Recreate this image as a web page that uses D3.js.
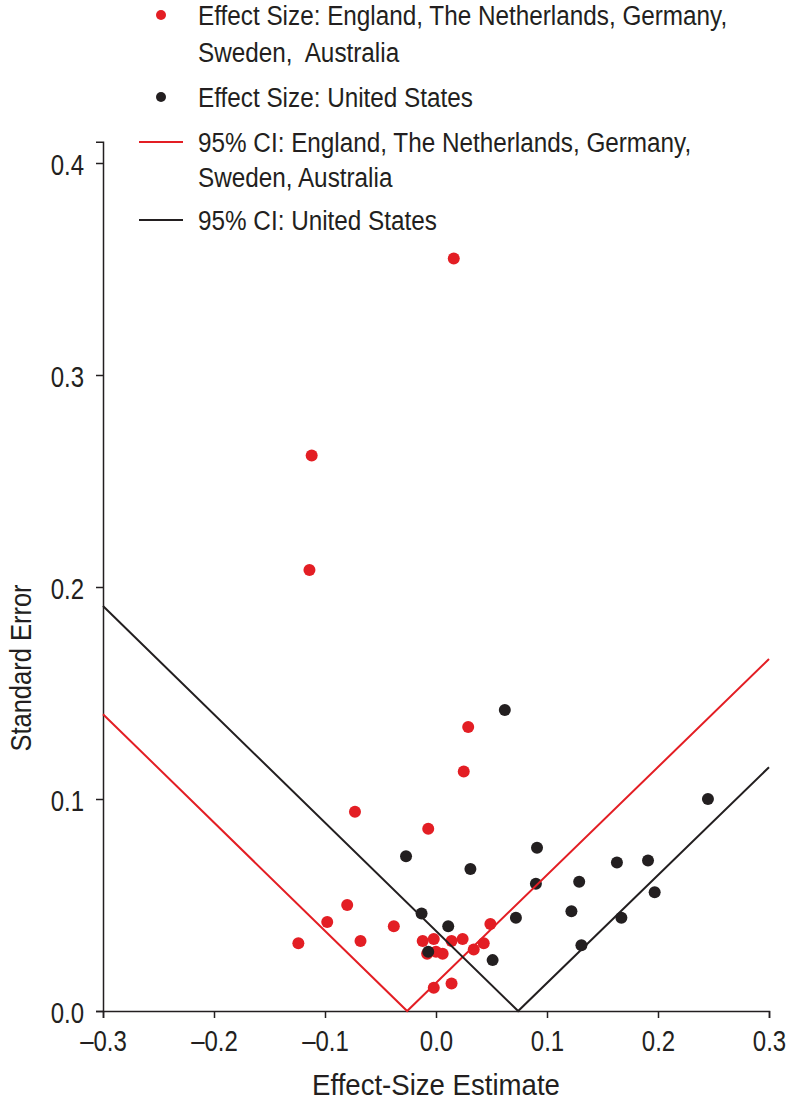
<!DOCTYPE html>
<html>
<head>
<meta charset="utf-8">
<script src="https://cdn.jsdelivr.net/npm/d3@7"></script>
<style>
  html, body { margin: 0; padding: 0; background: #fff; }
  svg { display: block; }
  text { font-family: "Liberation Sans", Arial, Helvetica, sans-serif; fill: #231f20; }
</style>
</head>
<body>
<svg id="chart" width="790" height="1101"></svg>
<script>
// ---- Data ----
const redEffect = [0.016, -0.112, -0.114, 0.029, 0.025, -0.073, -0.007, -0.080, -0.098, -0.124, -0.068, -0.038,
                   -0.012, -0.002, 0.014, 0.024, 0.049, 0.043, 0.034, -0.008, 0.000, 0.006, -0.002, 0.014];
const redSE     = [0.355, 0.262, 0.208, 0.134, 0.113, 0.094, 0.086, 0.050, 0.042, 0.032, 0.033, 0.040,
                   0.033, 0.034, 0.033, 0.034, 0.041, 0.032, 0.029, 0.027, 0.028, 0.027, 0.011, 0.013];
const usEffect  = [0.062, -0.027, 0.031, 0.091, 0.090, -0.013, 0.011, -0.007, 0.051, 0.072, 0.245, 0.163,
                   0.191, 0.129, 0.197, 0.122, 0.167, 0.131];
const usSE      = [0.142, 0.073, 0.067, 0.077, 0.060, 0.046, 0.040, 0.028, 0.024, 0.044, 0.100, 0.070,
                   0.071, 0.061, 0.056, 0.047, 0.044, 0.031];
// 95% CI funnel lines (effect, SE)
const redCIx = [-0.3, -0.026, 0.3];
const redCIy = [0.140, 0.0, 0.166];
const usCIx  = [-0.3, 0.074, 0.3];
const usCIy  = [0.191, 0.0, 0.115];
const xTicks = [-0.3, -0.2, -0.1, 0.0, 0.1, 0.2, 0.3];
const yTicks = [0.0, 0.1, 0.2, 0.3, 0.4];
const legendItems = [
  { type: "dot",  color: "red",   lines: ["Effect Size: England, The Netherlands, Germany,", "Sweden,  Australia"] },
  { type: "dot",  color: "black", lines: ["Effect Size: United States"] },
  { type: "line", color: "red",   lines: ["95% CI: England, The Netherlands, Germany,", "Sweden, Australia"] },
  { type: "line", color: "black", lines: ["95% CI: United States"] }
];
const xTitle = "Effect-Size Estimate";
const yTitle = "Standard Error";

// ---- Styles ----
const RED = "#e31e24", BLACK = "#231f20";
const colorOf = c => c === "red" ? RED : BLACK;
// condensed look: larger size, horizontally compressed
const TICK_FS = 30, TICK_SX = 0.8;
const TITLE_FS = 30, XTITLE_SX = 0.92, YTITLE_SX = 0.85;
const LEG_FS = 27, LEG_SX = 0.9;

const svg = d3.select("#chart");
const x = d3.scaleLinear().domain([-0.3, 0.3]).range([103, 769]);
const y = d3.scaleLinear().domain([0, 0.41]).range([1011, 1011 - 0.41 * 2120]);

const fmtX = d => (d < 0 ? "\u2013" : "") + Math.abs(d).toFixed(1);
const fmtY = d => d.toFixed(1);

// X axis
const gx = svg.append("g").attr("transform", `translate(0,${y(0)})`)
  .call(d3.axisBottom(x).tickValues(xTicks).tickFormat(fmtX).tickSizeOuter(0).tickSize(7));
gx.attr("font-family", null).attr("font-size", null);
gx.select(".domain").attr("stroke", BLACK).attr("stroke-width", 1.5);
gx.selectAll(".tick line").attr("stroke", BLACK).attr("stroke-width", 1.5);
gx.selectAll(".tick text")
  .attr("font-size", TICK_FS).attr("fill", BLACK)
  .attr("x", 0).attr("y", 0).attr("dy", null)
  .attr("transform", `translate(0,40) scale(${TICK_SX},1)`);

// Y axis
const gy = svg.append("g").attr("transform", `translate(${x(-0.3)},0)`)
  .call(d3.axisLeft(y).tickValues(yTicks).tickFormat(fmtY).tickSizeOuter(0).tickSize(7));
gy.attr("font-family", null).attr("font-size", null);
gy.select(".domain").attr("stroke", BLACK).attr("stroke-width", 1.5);
gy.selectAll(".tick line").attr("stroke", BLACK).attr("stroke-width", 1.5);
gy.selectAll(".tick text")
  .attr("font-size", TICK_FS).attr("fill", BLACK)
  .attr("x", 0).attr("y", 0).attr("dy", null)
  .attr("transform", `translate(-19,11) scale(${TICK_SX},1)`);

// Titles
svg.append("text")
  .attr("transform", `translate(${(x(-0.3) + x(0.3)) / 2},1095) scale(${XTITLE_SX},1)`)
  .attr("text-anchor", "middle").attr("font-size", TITLE_FS).text(xTitle);
svg.append("text")
  .attr("transform", `translate(31,668) rotate(-90) scale(${YTITLE_SX},1)`)
  .attr("text-anchor", "middle").attr("font-size", TITLE_FS).text(yTitle);

// Points
const redPts = redEffect.map((e, i) => ({ e, s: redSE[i] }));
const usPts = usEffect.map((e, i) => ({ e, s: usSE[i] }));
svg.append("g").selectAll("circle").data(redPts).join("circle")
  .attr("cx", d => x(d.e)).attr("cy", d => y(d.s)).attr("r", 6).attr("fill", RED);
svg.append("g").selectAll("circle").data(usPts).join("circle")
  .attr("cx", d => x(d.e)).attr("cy", d => y(d.s)).attr("r", 6).attr("fill", BLACK);

// CI lines
const line = d3.line().x(d => x(d[0])).y(d => y(d[1]));
svg.append("path").datum(redCIx.map((v, i) => [v, redCIy[i]]))
  .attr("d", line).attr("fill", "none").attr("stroke", RED).attr("stroke-width", 2);
svg.append("path").datum(usCIx.map((v, i) => [v, usCIy[i]]))
  .attr("d", line).attr("fill", "none").attr("stroke", BLACK).attr("stroke-width", 2);

// Legend
const legendBaselines = [[25, 62], [107], [152, 187], [230]];
const leg = svg.append("g");
legendItems.forEach((item, i) => {
  const b0 = legendBaselines[i][0];
  const cy = b0 - 10;
  if (item.type === "dot") {
    leg.append("circle").attr("cx", 161).attr("cy", cy).attr("r", 5).attr("fill", colorOf(item.color));
  } else {
    leg.append("line").attr("x1", 139).attr("x2", 183).attr("y1", cy).attr("y2", cy)
      .attr("stroke", colorOf(item.color)).attr("stroke-width", 2);
  }
  item.lines.forEach((t, j) => {
    leg.append("text")
      .attr("transform", `translate(198,${legendBaselines[i][j]}) scale(${LEG_SX},1)`)
      .attr("font-size", LEG_FS).attr("xml:space", "preserve").style("white-space", "pre").text(t);
  });
});
</script>
</body>
</html>
